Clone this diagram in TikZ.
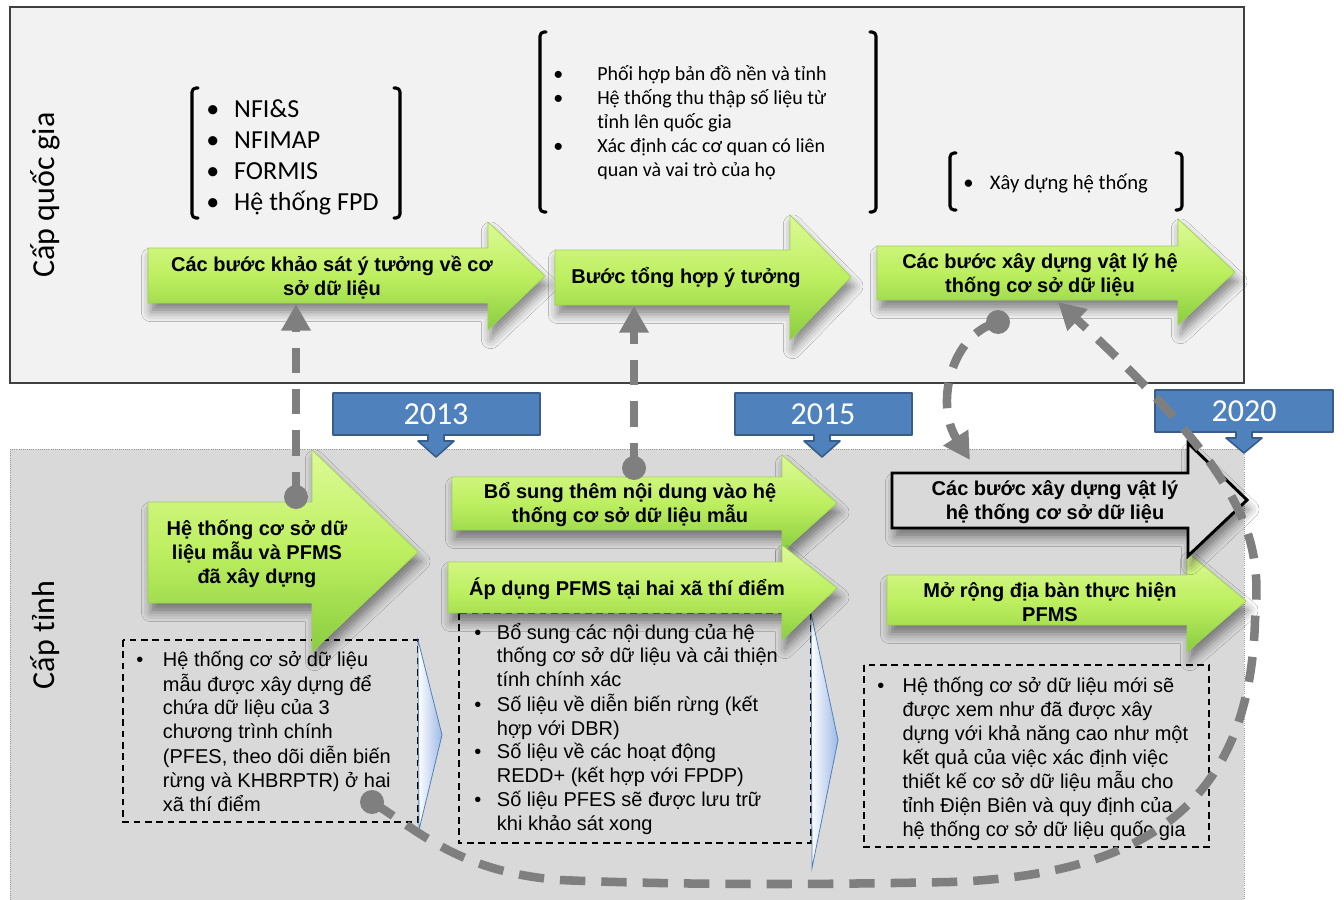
\documentclass[tikz,border=0pt]{standalone}
\usepackage{fontspec}
\setmainfont{Carlito}
\newfontfamily\arialfont{Liberation Sans}
\usetikzlibrary{arrows.meta,shadows.blur}

\definecolor{panelA}{HTML}{F2F2F2}
\definecolor{panelB}{HTML}{D9D9D9}
\definecolor{yearblue}{HTML}{4F81BD}
\definecolor{yearedge}{HTML}{385D8A}
\definecolor{connector}{HTML}{7F7F7F}
\definecolor{greenTop}{HTML}{DDFA96}
\definecolor{greenMid}{HTML}{BDEF60}
\definecolor{greenBot}{HTML}{8ACD40}
\definecolor{greenEdge}{HTML}{9CD453}
\definecolor{chevron}{HTML}{9DB9E6}

% arrow outline: style, left x, neck x, tip x, tip y, body top, body bottom, head top, head bottom
\newcommand\blockarrow[9]{%
  \path[#1] (#2,#6) -- (#3,#6) -- (#3,#8) -- (#4,#5) -- (#3,#9) -- (#3,#7) -- (#2,#7) -- cycle;}
% year marker: left, right, top, bottom, pointer centre, pointer tip
\newcommand\yearmarker[6]{%
  \path[yearbox] (#1,#3) -- (#2,#3) -- (#2,#4) -- (#5+8,#4) -- (#5+8,#4+6) -- (#5+18,#4+6)
    -- (#5,#6) -- (#5-18,#4+6) -- (#5-8,#4+6) -- (#5-8,#4) -- (#1,#4) -- cycle;}

\begin{document}
\begin{tikzpicture}[x=0.75pt,y=-0.75pt,
  panelTop/.style={fill=panelA, draw=black!75, line width=0.8pt},
  panelBot/.style={fill=panelB, draw=black!40, densely dotted, line width=0.6pt},
  lvl/.style={font=\fontsize{24}{28}\selectfont, rotate=90, inner sep=0pt},
  brk/.style={draw=black, line width=2.3pt, line cap=round, rounded corners=3pt},
  yearbox/.style={fill=yearblue, draw=yearedge, line width=1.2pt, line join=round},
  yeartext/.style={font=\fontsize{24}{28}\selectfont, text=white, inner sep=0pt},
  dashbox/.style={draw=black, line width=0.9pt, dash pattern=on 5pt off 3.5pt},
  chev/.style={left color=white, right color=chevron, draw=yearblue, line width=0.6pt},
  soft/.style={blur shadow={shadow xshift=2pt, shadow yshift=-7pt, shadow blur radius=7pt, shadow opacity=45}},
  garrow/.style={soft, top color=greenTop, bottom color=greenBot, middle color=greenMid, draw=greenEdge, line width=0.5pt},
  warrow/.style={soft, fill=panelB, draw=black, line width=2.2pt, line join=miter},
  atext/.style={font=\arialfont\bfseries\fontsize{15}{18}\selectfont, align=center, inner sep=0pt},
  btext/.style={font=\arialfont\fontsize{15}{17.9}\selectfont, inner sep=0pt, anchor=west},
  ltext/.style={inner sep=0pt, anchor=west},
  conn/.style={draw=connector, line width=6.4pt, dash pattern=on 19pt off 12pt,
    -{Triangle[length=20pt,width=21pt]}},
  dot/.style={circle, fill=connector, minimum size=18pt, inner sep=0pt},
]
\useasboundingbox (0,0) rectangle (1344,899);
\fill[white] (0,0) rectangle (1344,899);

% the two levels
\path[panelTop] (10,7) rectangle (1244,383);
\path[panelBot] (10,449) rectangle (1244,905);
\node[lvl] (lvlNat) at (45,195) {Cấp quốc gia};
\node[lvl] (lvlProv) at (45,635) {Cấp tỉnh};

% bracketed lists of the national level
\draw[brk] (198,88) -- (192,88) -- (192,218) -- (198,218);
\draw[brk] (394,88) -- (400,88) -- (400,218) -- (394,218);
\node[ltext, font=\fontsize{19.5}{23.25}\selectfont] (listA) at (206,158) {%
  \begin{tabular}{@{}p{21pt}@{}l@{}}
  • & NFI\&S\\
  • & NFIMAP\\
  • & FORMIS\\
  • & Hệ thống FPD
  \end{tabular}};

\draw[brk] (546,32) -- (540,32) -- (540,212) -- (546,212);
\draw[brk] (870,32) -- (876,32) -- (876,212) -- (870,212);
\node[ltext, font=\fontsize{15}{18}\selectfont] (listB) at (553,124) {%
  \begin{tabular}{@{}p{33pt}@{}l@{}}
  • & Phối hợp bản đồ nền và tỉnh\\
  • & Hệ thống thu thập số liệu từ\\
    & tỉnh lên quốc gia\\
  • & Xác định các cơ quan có liên\\
    & quan và vai trò của họ
  \end{tabular}};

\draw[brk] (956,153) -- (950,153) -- (950,210) -- (956,210);
\draw[brk] (1176,153) -- (1182,153) -- (1182,210) -- (1176,210);
\node[ltext, font=\fontsize{15.5}{18}\selectfont] (listC) at (963,185) {%
  \begin{tabular}{@{}p{20pt}@{}l@{}}
  • & Xây dựng hệ thống
  \end{tabular}};

% year markers
\yearmarker{333}{540}{393}{435}{436}{457}
\node[yeartext] (y2013) at (436,414) {2013};
\yearmarker{735}{912}{393}{435}{822}{457}
\node[yeartext] (y2015) at (823,414) {2015};
\yearmarker{1155}{1333}{390}{432}{1244}{453}
\node[yeartext] (y2020) at (1244,411) {2020};

% dashed notes of the provincial level
\draw[dashbox] (123,640) rectangle (418,822);
\node[btext] (noteA) at (136,734) {%
  \begin{tabular}{@{}p{20pt}@{}l@{}}
  • & Hệ thống cơ sở dữ liệu\\
    & mẫu được xây dựng để\\
    & chứa dữ liệu của 3\\
    & chương trình chính\\
    & (PFES, theo dõi diễn biến\\
    & rừng và KHBRPTR) ở hai\\
    & xã thí điểm
  \end{tabular}};

\draw[dashbox] (459,613) rectangle (811,843);
\node[btext] (noteB) at (474,730) {%
  \begin{tabular}{@{}p{17pt}@{}l@{}}
  • & Bổ sung các nội dung của hệ\\
    & thống cơ sở dữ liệu và cải thiện\\
    & tính chính xác\\
  • & Số liệu về diễn biến rừng (kết\\
    & hợp với DBR)\\
  • & Số liệu về các hoạt động\\
    & REDD+ (kết hợp với FPDP)\\
  • & Số liệu PFES sẽ được lưu trữ\\
    & khi khảo sát xong
  \end{tabular}};

\draw[dashbox] (864,665) rectangle (1209,847);
\node[btext] (noteC) at (877,760) {%
  \begin{tabular}{@{}p{19pt}@{}l@{}}
  • & Hệ thống cơ sở dữ liệu mới sẽ\\
    & được xem như đã được xây\\
    & dựng với khả năng cao như một\\
    & kết quả của việc xác định việc\\
    & thiết kế cơ sở dữ liệu mẫu cho\\
    & tỉnh Điện Biên và quy định của\\
    & hệ thống cơ sở dữ liệu quốc gia
  \end{tabular}};

% chevrons between the notes
\path[chev] (418,640) -- (442,735) -- (419,830) -- cycle;
\path[chev] (811,613) -- (838,740) -- (812,868) -- cycle;

% national steps
\blockarrow{garrow}{148}{488}{545}{276}{248}{303}{222}{330}
\node[atext] (stepSurvey) at (332,278) {Các bước khảo sát ý tưởng về cơ\\sở dữ liệu};
\blockarrow{garrow}{555}{790}{851}{277}{250}{305}{215}{340}
\node[atext] (stepMerge) at (686,278) {Bước tổng hợp ý tưởng};
\blockarrow{garrow}{877}{1178}{1235}{272}{246}{300}{219}{325}
\node[atext] (stepBuildNat) at (1040,275) {Các bước xây dựng vật lý hệ\\thống cơ sở dữ liệu};

% provincial steps
\blockarrow{garrow}{148}{312}{418}{552}{502}{603}{450}{652}
\node[atext] (stepPilot) at (257,554) {Hệ thống cơ sở dữ\\liệu mẫu và PFMS\\đã xây dựng};
\blockarrow{garrow}{452}{782}{837}{503}{477}{530}{455}{552}
\node[atext] (stepAdd) at (630,505) {Bổ sung thêm nội dung vào hệ\\thống cơ sở dữ liệu mẫu};
\blockarrow{garrow}{448}{782}{837}{588}{562}{613}{545}{640}
\node[atext] (stepApply) at (627,589) {Áp dụng PFMS tại hai xã thí điểm};
\blockarrow{garrow}{887}{1187}{1246}{601}{575}{625}{552}{652}
\node[atext] (stepExtend) at (1050,602) {Mở rộng địa bàn thực hiện\\PFMS};
\blockarrow{warrow}{892}{1188}{1247}{500}{473}{528}{443}{556}
\node[atext] (stepBuildProv) at (1055,502) {Các bước xây dựng vật lý\\hệ thống cơ sở dữ liệu};

% links between the levels
\node[dot] (from1) at (296,497) {};
\coordinate (to1) at (296,304);
\draw[conn] (from1.center) -- (to1);

\node[dot] (from2) at (634,468) {};
\coordinate (to2) at (634,306);
\draw[conn] (from2.center) -- (to2);

\node[dot] (from3) at (998,322) {};
\coordinate (to3) at (970,460);
\draw[conn] (from3.center) .. controls (950,335) and (935,405) .. (to3);

\node[dot] (from4) at (372,802) {};
\coordinate (to4) at (1058,302);
\draw[conn] (from4.center) .. controls (420,832) and (460,872) .. (560,880)
  .. controls (700,886) and (850,884) .. (950,882)
  .. controls (1150,875) and (1250,800) .. (1255,620)
  .. controls (1262,540) and (1250,480) .. (to4);
\end{tikzpicture}
\end{document}
